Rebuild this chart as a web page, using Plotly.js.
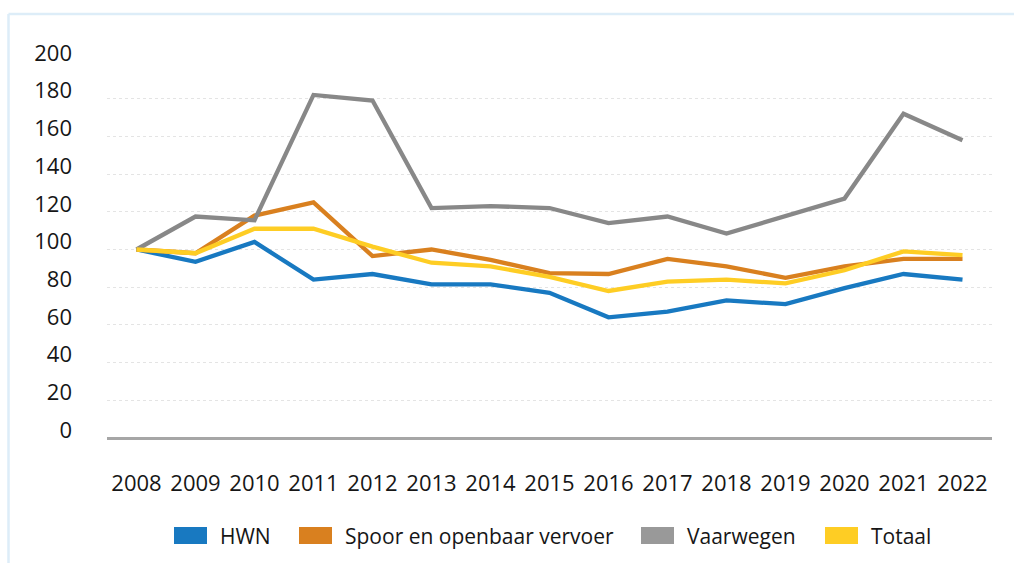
<!DOCTYPE html>
<html>
<head>
<meta charset="utf-8">
<script src="https://cdn.plot.ly/plotly-3.0.1.min.js"></script>
<style>
  html, body { margin: 0; padding: 0; background: #ffffff; }
  #chart { width: 1014px; height: 563px; }
</style>
</head>
<body>
<div id="chart"></div>
<script>
// ---- data ----
var years = ['2008','2009','2010','2011','2012','2013','2014','2015','2016','2017','2018','2019','2020','2021','2022'];
var seriesNames = ['HWN', 'Spoor en openbaar vervoer', 'Vaarwegen', 'Totaal'];
var hwn       = [100, 93.5, 104, 84, 87, 81.5, 81.5, 77, 64, 67, 73, 71, 79.5, 87, 84];
var spoor     = [100, 98, 118, 125, 96.5, 100, 94.5, 87.5, 87, 95, 91, 85, 91, 95, 95];
var vaarwegen = [100, 117.5, 115.5, 182, 179, 122, 123, 122, 114, 117.5, 108.5, 118, 127, 172, 158];
var totaal    = [100, 98, 111, 111, 101.5, 93, 91, 85.5, 78, 83, 84, 82, 89, 99, 97];
var yTicks    = [0, 20, 40, 60, 80, 100, 120, 140, 160, 180, 200];

// ---- style ----
var lineColors  = ['#1879c1', '#d9801f', '#888888', '#fecd24'];
var swatchColors = ['#1879c1', '#d9801f', '#999999', '#fecd24'];
var FONT = '"Open Sans", "Noto Sans", sans-serif';
var W = 1014, H = 563;
var L = 107, R = 992, T = 61, B = 438;

var allSeries = [hwn, spoor, vaarwegen, totaal];
var traces = allSeries.map(function (s, i) {
  return {
    type: 'scatter', mode: 'lines', x: years, y: s, name: seriesNames[i],
    line: { color: lineColors[i], width: 4.3 }, showlegend: false,
    hoverinfo: 'x+y+name'
  };
});

function px2x(px) { return (px - L) / (R - L); }
function py2y(py) { return (B - py) / (B - T); }

var shapes = [];
var annotations = [];
// frame (top and left edge, light blue)
shapes.push({ type: 'line', xref: 'paper', yref: 'paper', x0: px2x(8.5), x1: px2x(W + 5), y0: py2y(14), y1: py2y(14), line: { color: '#ddedf8', width: 2.5 } });
shapes.push({ type: 'line', xref: 'paper', yref: 'paper', x0: px2x(8.5), x1: px2x(8.5), y0: py2y(14), y1: py2y(H + 5), line: { color: '#ddedf8', width: 2.5 } });

// custom legend
var legendX = [174, 299, 641, 825];
var legendY = 535.5;
seriesNames.forEach(function (n, i) {
  shapes.push({ type: 'rect', xref: 'paper', yref: 'paper', x0: px2x(legendX[i]), x1: px2x(legendX[i] + 33), y0: py2y(legendY - 8.5), y1: py2y(legendY + 8.5), fillcolor: swatchColors[i], line: { width: 0 } });
  annotations.push({ xref: 'paper', yref: 'paper', x: px2x(legendX[i] + 44), y: py2y(legendY), xanchor: 'left', yanchor: 'middle', text: n, showarrow: false, font: { family: FONT, size: 21, color: '#161616' } });
});

var layout = {
  width: W, height: H,
  margin: { l: L, r: W - R, t: T, b: H - B, pad: 0 },
  paper_bgcolor: '#ffffff', plot_bgcolor: '#ffffff',
  showlegend: false,
  font: { family: FONT, size: 21, color: '#161616' },
  xaxis: {
    type: 'category', range: [-0.5, 14.5], showgrid: false, zeroline: false,
    showline: false, ticks: '', ticklabelstandoff: 30, fixedrange: true,
    tickfont: { family: FONT, size: 22, color: '#161616' }
  },
  yaxis: {
    range: [0, 200], tickvals: yTicks, ticktext: yTicks.map(String),
    showgrid: true, gridcolor: '#e4e4e4', griddash: 'dot', gridwidth: 1,
    zeroline: true, zerolinecolor: '#a6a6a6', zerolinewidth: 2.5,
    showline: false, ticks: '', ticklabelstandoff: 34, ticklabelshift: -8,
    fixedrange: true,
    tickfont: { family: FONT, size: 22, color: '#161616' }
  },
  shapes: shapes,
  annotations: annotations
};

Plotly.newPlot('chart', traces, layout, { displayModeBar: false, responsive: false });
</script>
</body>
</html>
